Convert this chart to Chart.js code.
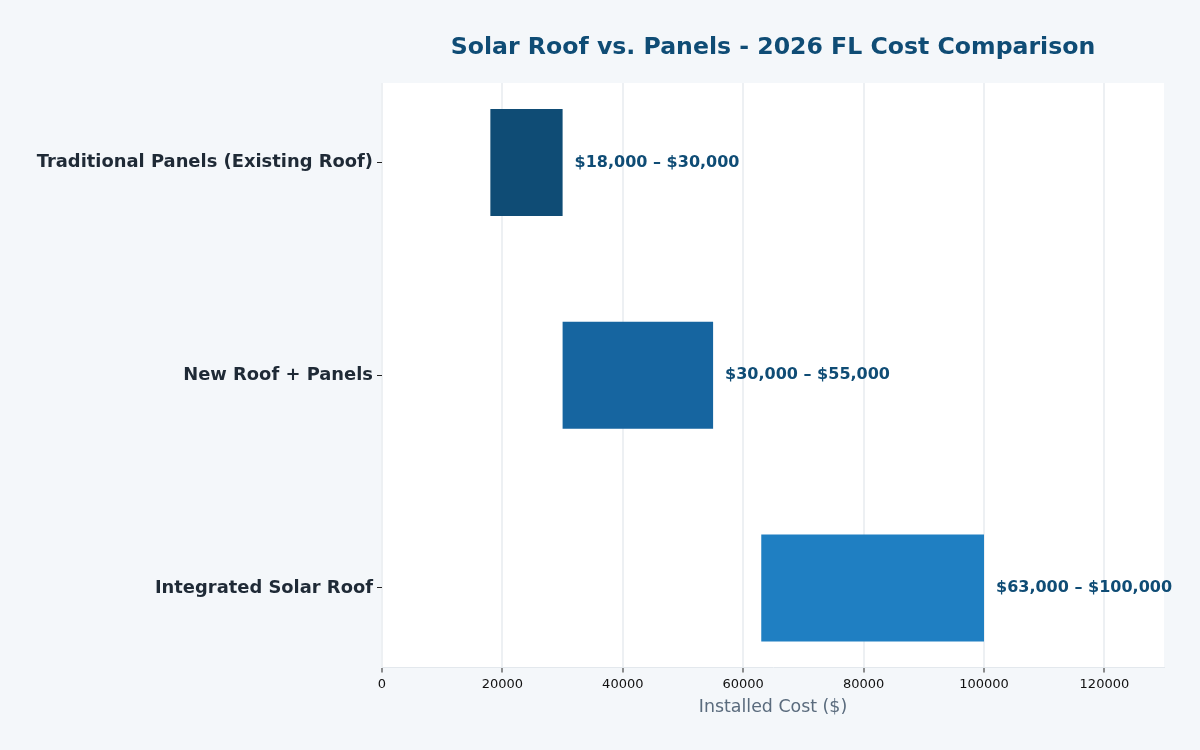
<!DOCTYPE html>
<html>
<head>
<meta charset="utf-8">
<script src="https://cdn.jsdelivr.net/npm/chart.js@4/dist/chart.umd.min.js"></script>
<style>
  html, body { margin: 0; padding: 0; background: #f4f7fa; }
  #wrap { width: 1200px; height: 750px; }
</style>
</head>
<body>
<div id="wrap"><canvas id="costChart" width="1200" height="750"></canvas></div>
<script>
var categories = ["Traditional Panels (Existing Roof)", "New Roof + Panels", "Integrated Solar Roof"];
var lowCost = [18000, 30000, 63000];
var highCost = [30000, 55000, 100000];
var rangeLabels = ["$18,000 – $30,000", "$30,000 – $55,000", "$63,000 – $100,000"];
var barColors = ["#0f4c75", "#1665a0", "#1f7fc2"];
var xTicks = [0, 20000, 40000, 60000, 80000, 100000, 120000];

var rows = categories.map(function(c, i){
  return { x: [lowCost[i], highCost[i]], y: i };
});

// fond blanc de la zone du graphe
var plotBg = {
  id: "plotBg",
  beforeDraw: function(chart){
    var a = chart.chartArea, c = chart.ctx;
    c.save();
    c.fillStyle = "#ffffff";
    c.fillRect(a.left, a.top, a.right - a.left, a.bottom - a.top);
    c.restore();
  }
};

// titre centré sur la zone du graphe + étiquettes de valeurs
var extras = {
  id: "extras",
  afterDatasetsDraw: function(chart){
    var c = chart.ctx, a = chart.chartArea;
    c.save();
    c.fillStyle = "#0f4c75";
    c.font = "bold 23.6px 'DejaVu Sans'";
    c.textAlign = "center";
    c.textBaseline = "middle";
    c.fillText("Solar Roof vs. Panels - 2026 FL Cost Comparison", (a.left + a.right) / 2, 48);

    c.font = "bold 16px 'DejaVu Sans'";
    c.textAlign = "left";
    chart.getDatasetMeta(0).data.forEach(function(bar, i){
      c.fillText(rangeLabels[i], bar.x + 12, bar.y);
    });
    c.restore();
  }
};

new Chart(document.getElementById("costChart"), {
  type: "bar",
  data: {
    datasets: [{
      data: rows,
      backgroundColor: barColors,
      borderWidth: 0,
      barPercentage: 0.503,
      categoryPercentage: 1
    }]
  },
  options: {
    indexAxis: "y",
    responsive: false,
    animation: false,
    layout: { padding: { top: 83, right: 36, bottom: 32, left: 0 } },
    plugins: {
      legend: { display: false },
      tooltip: { enabled: false }
    },
    scales: {
      x: {
        type: "linear",
        min: 0,
        max: 129900,
        afterBuildTicks: function(axis){
          axis.ticks = xTicks.map(function(v){ return { value: v }; });
        },
        grid: { color: "#edf0f3", lineWidth: 2, tickLength: 5, tickColor: "#222222", tickWidth: 1 },
        border: { color: "#e3e8ed", width: 1 },
        ticks: {
          color: "#111111",
          font: { family: "DejaVu Sans", size: 13 },
          padding: 4,
          maxRotation: 0,
          callback: function(v){ return String(v); }
        },
        title: {
          display: true,
          text: "Installed Cost ($)",
          color: "#5a6b7d",
          font: { family: "DejaVu Sans", size: 17.4 },
          padding: { top: 1, bottom: 0 }
        }
      },
      y: {
        type: "linear",
        reverse: true,
        offset: false,
        min: -0.374,
        max: 2.374,
        afterBuildTicks: function(axis){
          axis.ticks = categories.map(function(c, i){ return { value: i }; });
        },
        afterFit: function(axis){ axis.width = 382; },
        grid: { offset: false, drawOnChartArea: false, tickLength: 5, tickColor: "#222222" },
        border: { display: false },
        ticks: {
          color: "#1f2a36",
          font: { family: "DejaVu Sans", size: 17.9, weight: "bold" },
          padding: 4,
          callback: function(v){ return categories[v]; }
        }
      }
    }
  },
  plugins: [plotBg, extras]
});
</script>
</body>
</html>
